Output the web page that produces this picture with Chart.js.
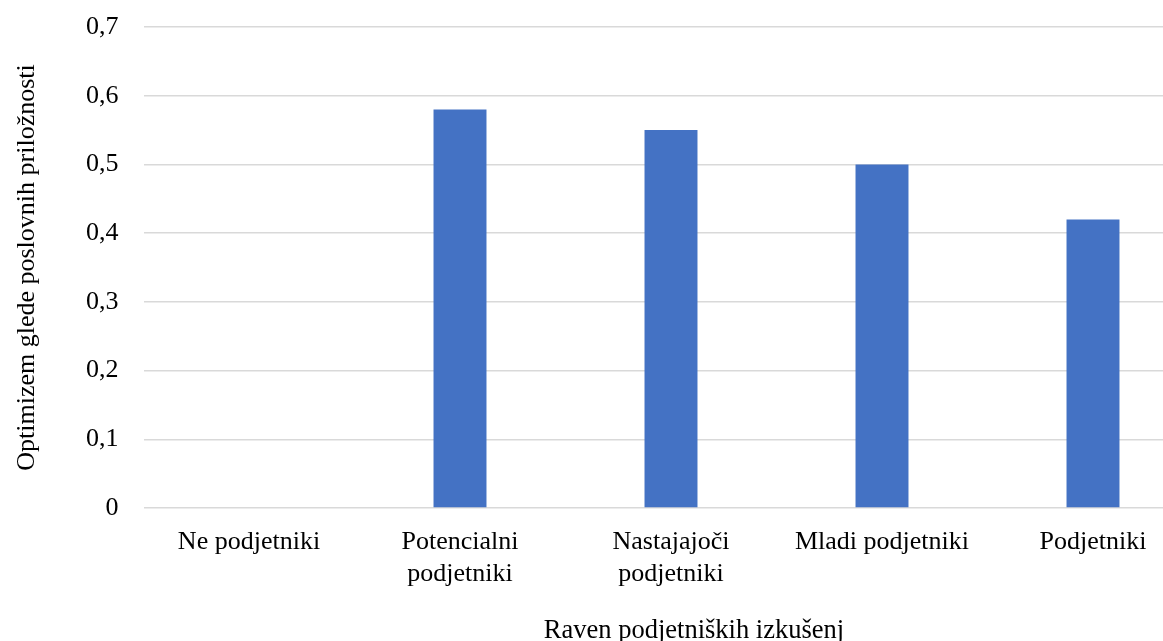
<!DOCTYPE html>
<html>
<head>
<meta charset="utf-8">
<script src="https://cdn.jsdelivr.net/npm/chart.js@4/dist/chart.umd.min.js"></script>
<style>
  html, body { margin: 0; padding: 0; background: #fff; overflow: hidden; }
  #wrap { width: 1163px; height: 641px; overflow: hidden; position: relative; }
  #box { width: 1280px; height: 641px; position: absolute; left: 0; top: 0; }
</style>
</head>
<body>
<div id="wrap"><div id="box"><canvas id="c"></canvas></div></div>
<script>
const categories = ["Ne podjetniki", ["Potencialni", "podjetniki"], ["Nastajajoči", "podjetniki"], "Mladi podjetniki", "Podjetniki"];
const values = [0, 0.58, 0.55, 0.50, 0.42];
const yTitle = "Optimizem glede poslovnih priložnosti";
const xTitle = "Raven podjetniških izkušenj";

const FONT = "'Liberation Serif', 'Times New Roman', serif";
const FS = 26;

const xTitlePlugin = {
  id: 'xTitlePlugin',
  afterDraw(chart) {
    const ctx = chart.ctx;
    const a = chart.chartArea;
    ctx.save();
    ctx.font = "26.5px " + FONT;
    ctx.fillStyle = '#000';
    ctx.textAlign = 'center';
    ctx.textBaseline = 'middle';
    ctx.fillText(xTitle, (a.left + a.right) / 2 + 23, a.bottom + 123);
    ctx.restore();
  }
};

new Chart(document.getElementById('c'), {
  type: 'bar',
  data: {
    labels: categories,
    datasets: [{
      data: values,
      backgroundColor: '#4472C4',
      borderWidth: 0,
      categoryPercentage: 1,
      barPercentage: 0.251
    }]
  },
  options: {
    responsive: true,
    maintainAspectRatio: false,
    animation: false,
    layout: { padding: { top: 27, right: 81.5, bottom: 0, left: 0 } },
    plugins: { legend: { display: false }, tooltip: { enabled: false } },
    scales: {
      x: {
        grid: { display: false },
        border: { display: false },
        ticks: { color: '#000', font: { family: FONT, size: FS }, padding: 11, maxRotation: 0, autoSkip: false },
        afterFit(scale) { scale.height = 133; scale.paddingLeft = 0; scale.paddingRight = 0; }
      },
      y: {
        min: 0, max: 0.7,
        grid: { color: '#d9d9d9', lineWidth: 1.5, drawTicks: false },
        border: { display: false },
        ticks: {
          stepSize: 0.1,
          color: '#000',
          font: { family: FONT, size: FS },
          padding: 25,
          callback: (v) => v === 0 ? '0' : v.toFixed(1).replace('.', ',')
        },
        title: { display: true, text: yTitle, color: '#000', font: { family: FONT, size: FS }, padding: { top: 12, bottom: 0 } },
        afterFit(scale) { scale.width = 143.5; scale.paddingTop = 0; scale.paddingBottom = 0; }
      }
    }
  },
  plugins: [xTitlePlugin]
});
</script>
</body>
</html>
